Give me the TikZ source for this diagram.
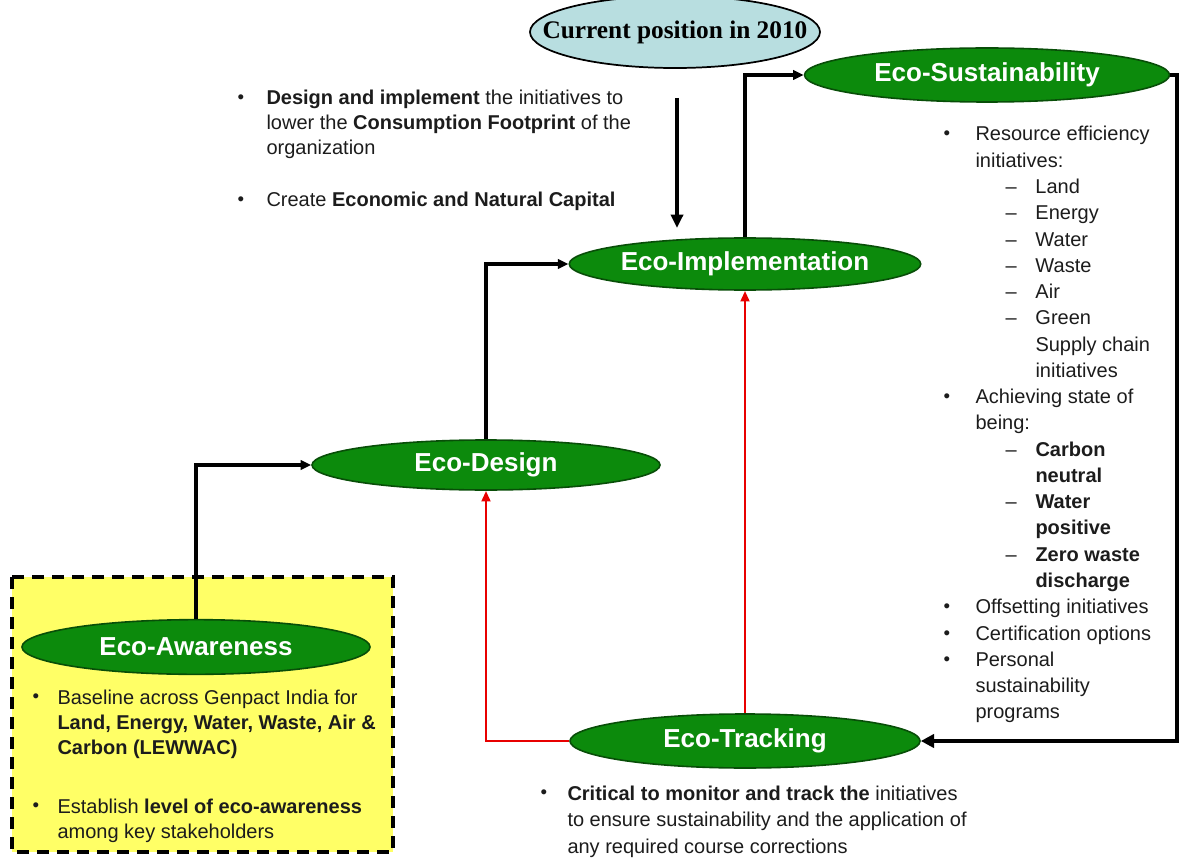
\documentclass[tikz,border=0pt]{standalone}
\usepackage{fontspec}
\setmainfont{Liberation Sans}
\newfontfamily\timesbold{Liberation Serif}
\usepackage{array}
\usetikzlibrary{shapes.geometric,arrows.meta}

\definecolor{ecogreen}{RGB}{12,138,12}
\definecolor{ecoedge}{RGB}{8,78,8}
\definecolor{nowblue}{RGB}{184,222,224}
\definecolor{notepad}{RGB}{255,255,102}
\definecolor{loopred}{RGB}{232,0,0}
\definecolor{ink}{RGB}{28,28,28}

% small list marks
\newcommand{\dotmark}{\raisebox{0.1ex}{\fontsize{14}{14}\selectfont •}}
\newcommand{\dashmark}{–}

\tikzset{every picture/.style={line width=0.75pt},
  ecostage/.style={ellipse, draw=ecoedge, line width=1.2pt, fill=ecogreen, text=white, inner sep=0pt,
    font=\fontsize{19.5}{22}\selectfont\bfseries},
  nowbubble/.style={ellipse, draw=black, line width=1.3pt, fill=nowblue, inner ysep=0pt, inner xsep=-24pt,
    font=\timesbold\bfseries\fontsize{19}{22}\selectfont},
  notes/.style={anchor=base west, inner sep=0pt, text=ink},
  flow/.style={line width=2.4pt, -{Triangle[length=8pt,width=7pt]}},
  mainflow/.style={line width=3.4pt, -{Triangle[length=10pt,width=10pt]}},
  redflow/.style={draw=loopred, line width=2.2pt, -{Triangle[length=8pt,width=6.5pt,fill=loopred]}},
  pointer/.style={line width=3pt, -{Triangle[length=10pt,width=9pt]}},
  awarebox/.style={fill=notepad, draw=black, line width=2.4pt, dash pattern=on 9pt off 6pt}
}

\begin{document}
\begin{tikzpicture}[x=0.75pt,y=0.75pt,yscale=-1,xscale=1]
\useasboundingbox (0,0) rectangle (1181,859);

%Dashed note box behind Eco-Awareness
\draw [awarebox] (12,577) rectangle (393,852);

%Stage ellipses
\node [ecostage, minimum width=273.75pt, minimum height=40.5pt] (sust) at (987,75) {Eco-Sustainability};
\node [ecostage, minimum width=262.5pt, minimum height=39pt] (impl) at (745,264) {Eco-Implementation};
\node [ecostage, minimum width=261pt, minimum height=37.5pt] (design) at (486,465) {Eco-Design};
\node [ecostage, minimum width=261pt, minimum height=41pt] (aware) at (196,647) {Eco-Awareness};
\node [ecostage, minimum width=262.5pt, minimum height=40.5pt] (track) at (745,741) {Eco-Tracking};

%Rail on the right side
\coordinate (rail) at (1177,75);
%Start of the marker arrow
\coordinate (mark top) at (677,98);
\coordinate (mark tip) at (677,228);

%Forward steps
\draw [flow] (aware.north) |- (design.west);
\draw [flow] (design.north) |- (impl.west);
\draw [flow] (impl.north) |- (sust.west);
\draw [mainflow] (sust.east) -- (rail) |- (track.east);
%Feedback from tracking
\draw [redflow] (track.west) -| (design.south);
\draw [redflow] (track.north) -- (impl.south);

%Current position marker
\node [nowbubble, minimum width=217.5pt, minimum height=54pt] (now) at (675,32) {Current position in 2010};
\draw [pointer] (mark top) -- (mark tip);

% Text Node
\node [notes, font=\fontsize{15}{18.4}\selectfont] (designnotes) at (237,105) {\begin{tabular}[t]{@{}p{21.75pt}@{}l@{}}
\dotmark & \textbf{Design and implement} the initiatives to\\
 & lower the \textbf{Consumption Footprint} of the\\
 & organization\\[20.6pt]
\dotmark & Create \textbf{Economic and Natural Capital}
\end{tabular}};
% Text Node
\node [notes, font=\fontsize{15}{19.7}\selectfont] (sustnotes) at (943,141) {\begin{tabular}[t]{@{}p{24pt}@{}p{22.5pt}@{}p{22.5pt}@{}l@{}}
\dotmark & \multicolumn{3}{@{}l@{}}{Resource efficiency}\\
 & \multicolumn{3}{@{}l@{}}{initiatives:}\\
 & & \dashmark & Land\\
 & & \dashmark & Energy\\
 & & \dashmark & Water\\
 & & \dashmark & Waste\\
 & & \dashmark & Air\\
 & & \dashmark & Green\\
 & & & Supply chain\\
 & & & initiatives\\
\dotmark & \multicolumn{3}{@{}l@{}}{Achieving state of}\\
 & \multicolumn{3}{@{}l@{}}{being:}\\
 & & \dashmark & \textbf{Carbon}\\
 & & & \textbf{neutral}\\
 & & \dashmark & \textbf{Water}\\
 & & & \textbf{positive}\\
 & & \dashmark & \textbf{Zero waste}\\
 & & & \textbf{discharge}\\
\dotmark & \multicolumn{3}{@{}l@{}}{Offsetting initiatives}\\
\dotmark & \multicolumn{3}{@{}l@{}}{Certification options}\\
\dotmark & \multicolumn{3}{@{}l@{}}{Personal}\\
 & \multicolumn{3}{@{}l@{}}{sustainability}\\
 & \multicolumn{3}{@{}l@{}}{programs}
\end{tabular}};
% Text Node
\node [notes, font=\fontsize{15}{18.75}\selectfont] (awarenotes) at (32,704) {\begin{tabular}[t]{@{}p{18.75pt}@{}l@{}}
\dotmark & Baseline across Genpact India for\\
 & \textbf{Land, Energy, Water, Waste, Air \&}\\
 & \textbf{Carbon (LEWWAC)}\\[25.5pt]
\dotmark & Establish \textbf{level of eco-awareness}\\
 & among key stakeholders
\end{tabular}};
% Text Node
\node [notes, font=\fontsize{15}{19.9}\selectfont] (tracknotes) at (540,800) {\begin{tabular}[t]{@{}p{20.25pt}@{}l@{}}
\dotmark & \textbf{Critical to monitor and track the} initiatives\\
 & to ensure sustainability and the application of\\
 & any required course corrections
\end{tabular}};

\end{tikzpicture}
\end{document}
